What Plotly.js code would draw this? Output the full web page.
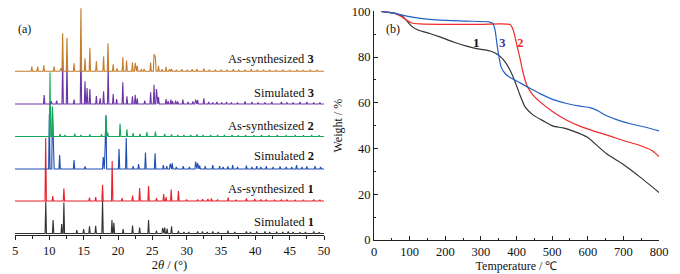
<!DOCTYPE html>
<html>
<head>
<meta charset="utf-8">
<script src="https://cdn.plot.ly/plotly-3.0.1.min.js"></script>
<style>html,body{margin:0;padding:0;background:#fff}#chart{width:680px;height:274px}</style>
</head>
<body>
<div id="chart"></div>
<script>
// ---------- Panel (a): PXRD peak lists [2theta, intensity] ----------
const asSynth3 = [[7.45,4.7],[8.3,4.7],[9.2,6],[10.7,5],[11.65,3],[11.94,38],[12.57,33.6],[13.6,8],[14.6,63],[15.2,13],[15.9,23.6],[16.85,10],[17.9,15],[18.54,28],[19.3,7],[19.85,3],[20.7,14],[21.25,10.7],[22.1,8.7],[22.5,8.5],[22.8,5.5],[23.4,2],[23.8,2.5],[24.75,8.7],[25.25,17],[25.45,14],[25.9,5.5],[26.4,2],[27.0,4.5],[27.5,2],[27.8,2.5],[28.5,1.5],[29.3,2],[30.1,1.5],[30.8,2],[31.5,2.5],[32.5,3],[33.3,1.5],[34.2,1.5],[35.0,1.5],[35.9,1.5],[36.8,2],[37.6,1.5],[38.5,1.5],[39.4,2],[40.3,1.5],[41.2,1.5],[42.1,1.5],[43.0,1.2],[44.0,1.5],[45.0,1.2],[46.1,1.5],[47.0,1.2],[48.0,1.5],[49.0,1.2]];
const simulated3 = [[9.25,9],[10.3,3],[11.06,3.5],[11.94,45],[12.57,42],[13.6,4.3],[14.6,55],[15.2,22.7],[15.5,16],[15.9,15],[16.85,8],[17.4,5.7],[17.9,12.7],[18.57,38],[19.3,10],[19.8,5],[20.7,21.7],[21.3,7.7],[22.1,7.7],[22.5,9.3],[22.8,5.7],[23.9,3.3],[24.75,11.7],[25.25,19.3],[25.6,15],[25.9,7],[27.0,5],[27.3,3],[27.7,4.3],[27.95,3],[28.4,3.3],[28.7,2.5],[29.45,4.3],[30.2,2],[30.9,2.7],[31.3,4.3],[31.6,4],[32.5,5.7],[33.2,2],[33.8,1.5],[34.4,2],[35.1,1.5],[35.8,2],[36.5,1.5],[37.4,1.5],[38.5,2.7],[39.5,2],[40.4,1.5],[41.4,1.5],[42.4,2],[43.8,2],[44.6,1.5],[45.5,1.5],[46.5,2],[47.5,2],[48.5,1.5],[49.4,1.5]];
const asSynth2 = [[10.1,64],[10.45,30],[11.55,2.3],[12.3,1.5],[13.7,3],[14.6,1.5],[15.9,2],[17.6,2],[18.25,20],[18.5,4],[20.3,13],[21.3,7.3],[22.2,3.3],[23.2,2.5],[24.2,4.3],[25.45,5],[26.8,2.5],[27.8,2],[28.7,1.5],[29.6,1.5],[30.6,1.5],[31.5,2],[32.4,1.5],[33.5,1.5],[34.5,1.5],[35.5,1.5],[36.6,1.5],[37.5,1.2],[38.6,1.5],[39.8,1.2],[40.9,1.5],[42.0,1.2],[43.2,1.5],[44.5,1.2],[45.8,1.5],[47.0,1.2],[48.2,1.5],[49.3,1.2]];
const simulated2 = [[10.0,55],[10.45,62],[10.6,25],[11.5,14],[13.6,9],[15.2,2.5],[17.85,12],[18.1,17],[18.25,54],[20.15,20],[21.2,31],[22.2,3],[23.0,5],[24.0,16.5],[25.4,15.8],[26.6,4],[27.1,3],[27.6,5.3],[27.9,6],[28.5,2],[29.5,3],[30.4,2],[31.3,7.5],[31.6,6],[31.9,3.5],[32.7,3],[33.8,4],[34.8,3],[35.3,2],[36.0,2.5],[36.7,4],[37.4,2],[38.7,3.5],[39.5,2],[40.2,3],[40.8,2],[41.6,3],[42.6,2],[43.6,2.5],[44.5,2],[45.3,2],[46.0,4],[46.8,2],[47.5,2.5],[48.7,3],[49.5,2]];
const asSynth1 = [[9.47,63],[10.5,5],[12.12,12.5],[15.85,3.5],[16.75,3.8],[17.75,16],[19.15,40],[20.6,3],[22.12,5.5],[23.15,13],[24.45,15],[25.6,3],[26.65,7],[27.0,4],[27.75,11.5],[28.8,10],[30.0,1.5],[31.6,1.5],[32.3,1.8],[33.1,2],[33.6,2.5],[34.5,1.5],[36.05,3.5],[37.2,1.2],[38.7,2.5],[39.9,2],[40.8,1.5],[41.6,1.5],[42.8,1.2],[43.8,1.5],[44.6,1.5],[45.8,1.2],[47.0,1.2],[48.5,1.5],[49.4,1.2]];
const simulated1 = [[9.48,32],[10.55,13.5],[11.8,9.5],[12.12,31],[14.0,3.3],[15.0,4.5],[15.85,7.2],[16.75,7.8],[17.75,33],[19.12,13.5],[19.4,10.8],[20.75,4.3],[22.12,8],[23.15,6],[24.45,13.5],[25.6,3],[26.5,5.5],[26.8,6],[27.15,5],[27.8,7.3],[28.8,2.5],[29.6,1.5],[30.3,1.5],[31.6,2],[32.3,2],[33.0,1.5],[33.8,2],[34.6,1.5],[36.0,3],[37.0,1.5],[38.7,2.2],[39.3,1.5],[40.2,2],[41.4,2],[42.1,1.5],[43.1,1.8],[44.0,1.5],[44.8,2],[45.5,1.5],[46.5,1.2],[47.3,1.5],[48.5,2],[49.3,1.2]];

const patternNames = ['Simulated 1','As-synthesized 1','Simulated 2','As-synthesized 2','Simulated 3','As-synthesized 3'];
const patternLabels = ['Simulated <b>1</b>','As-synthesized <b>1</b>','Simulated <b>2</b>','As-synthesized <b>2</b>','Simulated <b>3</b>','As-synthesized <b>3</b>'];
const patternOffsets = [1.5, 34, 66, 98.5, 131, 163.7];
const patternData = [simulated1, asSynth1, simulated2, asSynth2, simulated3, asSynth3];
const patternColors = ['#333333','#e8202a','#1f4db0','#16a85a','#6b35a6','#c47d2c'];
const xTicksA = [5,10,15,20,25,30,35,40,45,50];

// ---------- Panel (b): TGA curves [T (°C), weight %] ----------
const tempTGA1 = [20,59,78,92,106,125,157,185,223,260,288,316,340,354,368,382,396,410,424,447,475,503,531,559,597,653,700,747,800];
const wtTGA1   = [100,99.1,98,95.8,93.4,91.7,90.3,88.8,86.6,84.8,83.7,83.0,81.8,80.3,77.9,74.2,69.2,63.3,58.2,54.6,52.1,49.8,49.0,47.6,45.1,37.7,33.0,27.5,20.8];
const tempTGA2 = [20,59,78,92,106,130,200,300,382,391,400,410,419,429,443,466,503,541,578,616,663,700,747,779,800];
const wtTGA2   = [100,99.1,97.6,96.1,94.9,94.5,94.3,94.3,94.2,91.7,85.9,79.3,72.8,67.7,64.0,60.4,56.0,52.4,49.8,47.7,45.4,43.5,41.3,39.2,36.5];
const tempTGA3 = [20,59,92,130,185,260,325,334,340,345,351,357,368,382,410,438,466,503,541,578,606,625,653,691,728,766,800];
const wtTGA3   = [100,99.1,97.9,96.9,96.1,95.7,95.3,94.6,91.7,85.9,80,75.6,72.8,71,68.7,66.3,64.0,61.4,59.7,58.5,57.9,56.8,54.3,52.1,50.5,49.2,47.7];
const tgaLabels = ['1','2','3'];
const tgaColors = ['#333333','#ee2a2a','#2262c4'];
const tgaLabelColors = ['#111111','#ee2a2a','#3a3aa8'];

// build stick-style profile from peak list (adjacent overlapping peaks joined top to top)
function profile(peaks, base) {
  const w = 0.1;
  const pk = peaks.slice().sort((a,b)=>a[0]-b[0]);
  const xs = [5], ys = [base];
  pk.forEach(([p,h], i) => {
    const prev = pk[i-1], next = pk[i+1];
    if (!prev || p - prev[0] >= 2*w) { xs.push(p-w); ys.push(base); }
    xs.push(p); ys.push(base+h);
    if (!next || next[0] - p >= 2*w) { xs.push(p+w); ys.push(base); }
  });
  xs.push(50); ys.push(base);
  return {xs, ys};
}

const font = 'Liberation Serif, Times New Roman, serif';
const traces = [];
patternData.forEach((pk, i) => {
  const pr = profile(pk, patternOffsets[i]);
  traces.push({x: pr.xs, y: pr.ys, type:'scatter', mode:'lines', name: patternNames[i],
    line:{color: patternColors[i], width:1.1}, xaxis:'x', yaxis:'y', hoverinfo:'skip'});
});
[[tempTGA1,wtTGA1],[tempTGA2,wtTGA2],[tempTGA3,wtTGA3]].forEach(([t,w],i)=>{
  traces.push({x:t, y:w, type:'scatter', mode:'lines', line:{color:tgaColors[i], width:1.2, shape:'spline', smoothing:0.6},
    xaxis:'x2', yaxis:'y2', name: tgaLabels[i]});
});

const annotations = [];
const labelYpx = [222, 189, 156, 126, 93, 59];
patternLabels.forEach((t,i)=>{
  annotations.push({xref:'x', yref:'paper', x:48.8, y:(274-labelYpx[i])/274, text:t, showarrow:false,
    xanchor:'right', yanchor:'middle', font:{family:font, size:12.5, color:'#111'}});
});
annotations.push({xref:'paper', yref:'paper', x:24/680, y:(274-29)/274, text:'(a)', showarrow:false, xanchor:'center', yanchor:'middle', font:{family:font,size:12,color:'#111'}});
annotations.push({xref:'paper', yref:'paper', x:393/680, y:(274-29)/274, text:'(b)', showarrow:false, xanchor:'center', yanchor:'middle', font:{family:font,size:12,color:'#111'}});
const tgaLabelXpx = [477, 520, 502];
tgaLabels.forEach((t,i)=>{
  annotations.push({xref:'paper', yref:'paper', x:tgaLabelXpx[i]/680, y:(274-43)/274, text:'<b>'+t+'</b>', showarrow:false,
    xanchor:'center', yanchor:'middle', font:{family:font,size:13,color:tgaLabelColors[i]}});
});

const layout = {
  width:680, height:274, margin:{l:0,r:0,t:0,b:0}, showlegend:false,
  paper_bgcolor:'#fff', plot_bgcolor:'rgba(0,0,0,0)',
  font:{family:font, size:12, color:'#111'},
  xaxis:{domain:[15/680, 324/680], range:[5,50], tickvals:xTicksA, ticks:'outside', ticklen:4, tickwidth:1, tickcolor:'#222',
    minor:{dtick:2.5, ticks:'outside', ticklen:2.5, tickcolor:'#222'},
    showline:true, linecolor:'#222', linewidth:1, showgrid:false, zeroline:false,
    tickfont:{family:font, size:12.5, color:'#111'},
    title:{text:'2<i>θ</i> / (°)', font:{family:font,size:12.5,color:'#111'}, standoff:1}},
  yaxis:{domain:[39/274, 270/274], range:[0,231], visible:false, fixedrange:true},
  xaxis2:{domain:[374/680, 659/680], range:[0,800], dtick:100, ticks:'inside', ticklen:4, tickwidth:1, tickcolor:'#222',
    minor:{dtick:50, ticks:'inside', ticklen:2, tickcolor:'#222'},
    showline:true, linecolor:'#222', linewidth:1, showgrid:false, zeroline:false, anchor:'y2',
    tickfont:{family:font, size:12.5, color:'#111'},
    title:{text:'Temperature / ℃', font:{family:font,size:12,color:'#111'}, standoff:1}},
  yaxis2:{domain:[34/274, (274-11.3)/274], range:[0,100], dtick:20, ticks:'inside', ticklen:4, tickwidth:1, tickcolor:'#222',
    minor:{dtick:10, ticks:'inside', ticklen:2, tickcolor:'#222'},
    showline:true, linecolor:'#222', linewidth:1, showgrid:false, zeroline:false, anchor:'x2',
    tickfont:{family:font, size:12.5, color:'#111'},
    title:{text:'Weight / %', font:{family:font,size:12,color:'#111'}, standoff:6}},
  annotations: annotations
};
Plotly.newPlot('chart', traces, layout, {staticPlot:true, displayModeBar:false});
</script>
</body>
</html>
